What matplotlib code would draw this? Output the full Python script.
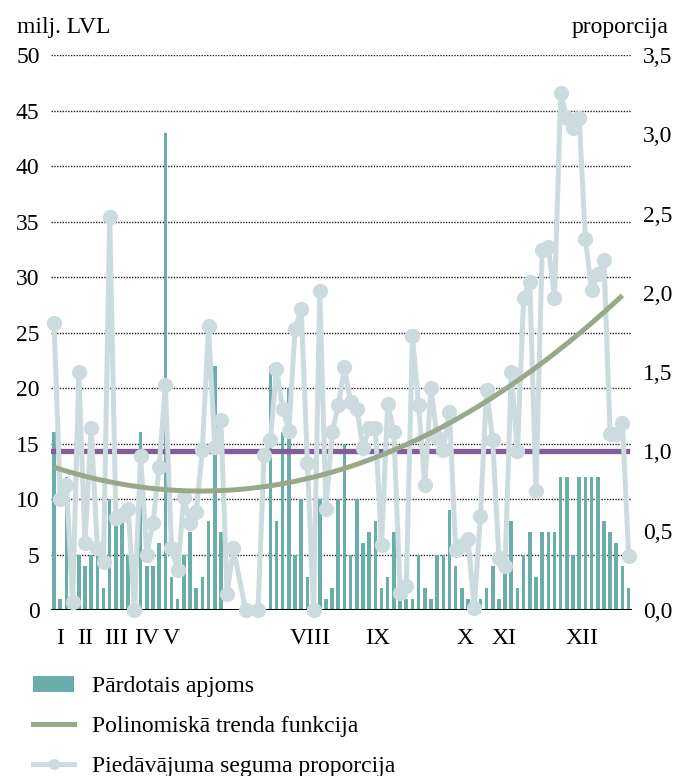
import numpy as np
import matplotlib
matplotlib.use("Agg")
import matplotlib.pyplot as plt
from matplotlib.patches import Patch
from matplotlib.lines import Line2D

plt.rcParams['font.family'] = ['Liberation Serif', 'DejaVu Serif']

# sold volume, milj. LVL (one value per auction slot)
volume = [16, 1, 12, 1, 5, 4, 5, 5, 2, 10, 8, 8, 5, 0, 16, 4, 4, 6, 43, 3,
          1, 5, 7, 2, 3, 8, 22, 7, 0, 0, 0, 0, 0, 0, 0, 22, 8, 16, 20, 5,
          10, 3, 0, 10, 1, 2, 10, 15, 5, 10, 6, 7, 8, 2, 3, 7, 1, 1, 1, 5,
          2, 1, 5, 5, 9, 4, 2, 1, 0, 1, 2, 4, 1, 4, 8, 2, 5, 7, 3, 7,
          7, 7, 12, 12, 5, 12, 12, 12, 12, 8, 7, 6, 4, 2]

# offer coverage ratio (None = no auction)
ratio = [1.81, 0.70, 0.79, 0.05, 1.50, 0.42, 1.15, 0.39, 0.30, 2.48,
         0.58, 0.60, 0.64, 0.0, 0.97, 0.35, 0.55, 0.90, 1.42, 0.39,
         0.25, 0.71, 0.55, 0.62, 1.01, 1.79, 1.03, 1.20, 0.10, 0.39,
         None, 0.0, None, 0.0, 0.98, 1.07, 1.52, 1.27, 1.13, 1.77,
         1.90, 0.93, 0.0, 2.01, 0.64, 1.12, 1.29, 1.53, 1.31, 1.27,
         1.02, 1.15, 1.15, 0.41, 1.30, 1.12, 0.11, 0.15, 1.73, 1.29,
         0.79, 1.40, 1.09, 1.01, 1.25, 0.38, 0.41, 0.45, 0.01, 0.59,
         1.39, 1.07, 0.33, 0.28, 1.50, 1.00, 1.97, 2.07, 0.75, 2.27,
         2.29, 1.97, 3.26, 3.10, 3.04, 3.10, 2.34, 2.02, 2.12, 2.21,
         1.11, 1.11, 1.18, 0.34]

# polynomial trend (on ratio axis) and reference level
trend_coef = [2.65e-4, -0.0126, 0.900]
trend_end = 92
ref_level = 1.0

months = ['I', 'II', 'III', 'IV', 'V', 'VIII', 'IX', 'X', 'XI', 'XII']
month_pos = [1, 5, 10, 15, 19, 41.5, 52.3, 66.5, 72.8, 85.4]

left_ticks = [0, 5, 10, 15, 20, 25, 30, 35, 40, 45, 50]
right_ticks = [0, 0.5, 1.0, 1.5, 2.0, 2.5, 3.0, 3.5]

TEAL = '#6badab'
GREEN = '#98a98b'
GREY = '#cbdbde'
PURPLE = '#825c9c'
FS = 17

slots = np.arange(len(volume))

fig = plt.figure(figsize=(6.76, 7.76), dpi=100)
ax = fig.add_axes([0.075, 0.2139, 0.8595, 0.7152])
ax2 = ax.twinx()

ax.bar(slots, volume, width=0.58, color=TEAL, zorder=2)
ax.set_ylim(0, 50)
ax.set_xlim(-0.55, 93.5)
ax.set_yticks(left_ticks)
ax.set_yticklabels([str(t) for t in left_ticks], fontsize=FS)
for t in left_ticks[1:]:
    ax.axhline(t, color='#222222', lw=1.0, ls=(0, (1, 1)), zorder=1)
ax.axhline(0, color='black', lw=2.2, zorder=3)

ax.set_xticks(month_pos)
ax.set_xticklabels(months, fontsize=FS)
ax.tick_params(axis='both', length=0)
ax.tick_params(axis='x', pad=13)
ax.tick_params(axis='y', pad=8)

for a in (ax, ax2):
    for s in a.spines.values():
        s.set_visible(False)

# right axis: ratio series
xs = [s for s, r in zip(slots, ratio) if r is not None]
ys = [r for r in ratio if r is not None]
ax2.axhline(ref_level, color=PURPLE, lw=3.8, zorder=2,
            xmin=0.0, xmax=(92.8 + 0.55) / 94.05)
ax2.plot(xs, ys, color=GREY, lw=3.6, marker='o', ms=11,
         markeredgewidth=0, zorder=3, clip_on=False)
tx = np.linspace(0, trend_end, 200)
ax2.plot(tx, np.polyval(trend_coef, tx), color=GREEN, lw=3.6, zorder=4,
         solid_capstyle='butt')
ax2.set_ylim(0, 3.5)
ax2.set_yticks(right_ticks)
ax2.set_yticklabels([f'{t:.1f}'.replace('.', ',') for t in right_ticks],
                    fontsize=FS)
ax2.tick_params(axis='y', length=0, pad=8)

fig.text(17 / 676, 1 - 28 / 776, 'milj. LVL', fontsize=FS, va='center', ha='left')
fig.text(669 / 676, 1 - 28 / 776, 'proporcija', fontsize=FS, va='center', ha='right')

handles = [
    Patch(facecolor=TEAL, edgecolor='none'),
    Line2D([], [], color=GREEN, lw=3.6),
    Line2D([], [], color=GREY, lw=3.6, marker='o', ms=8, markeredgewidth=0),
]
labels = ['Pārdotais apjoms', 'Polinomiskā trenda funkcija',
          'Piedāvājuma seguma proporcija']
fig.legend(handles, labels, loc='upper left', bbox_to_anchor=(33 / 676, 1 - 676 / 776),
           frameon=False, fontsize=FS, borderpad=0, borderaxespad=0,
           handlelength=1.75, handleheight=0.65, handletextpad=0.75,
           labelspacing=0.8)

fig.savefig('out.png', dpi=100)
